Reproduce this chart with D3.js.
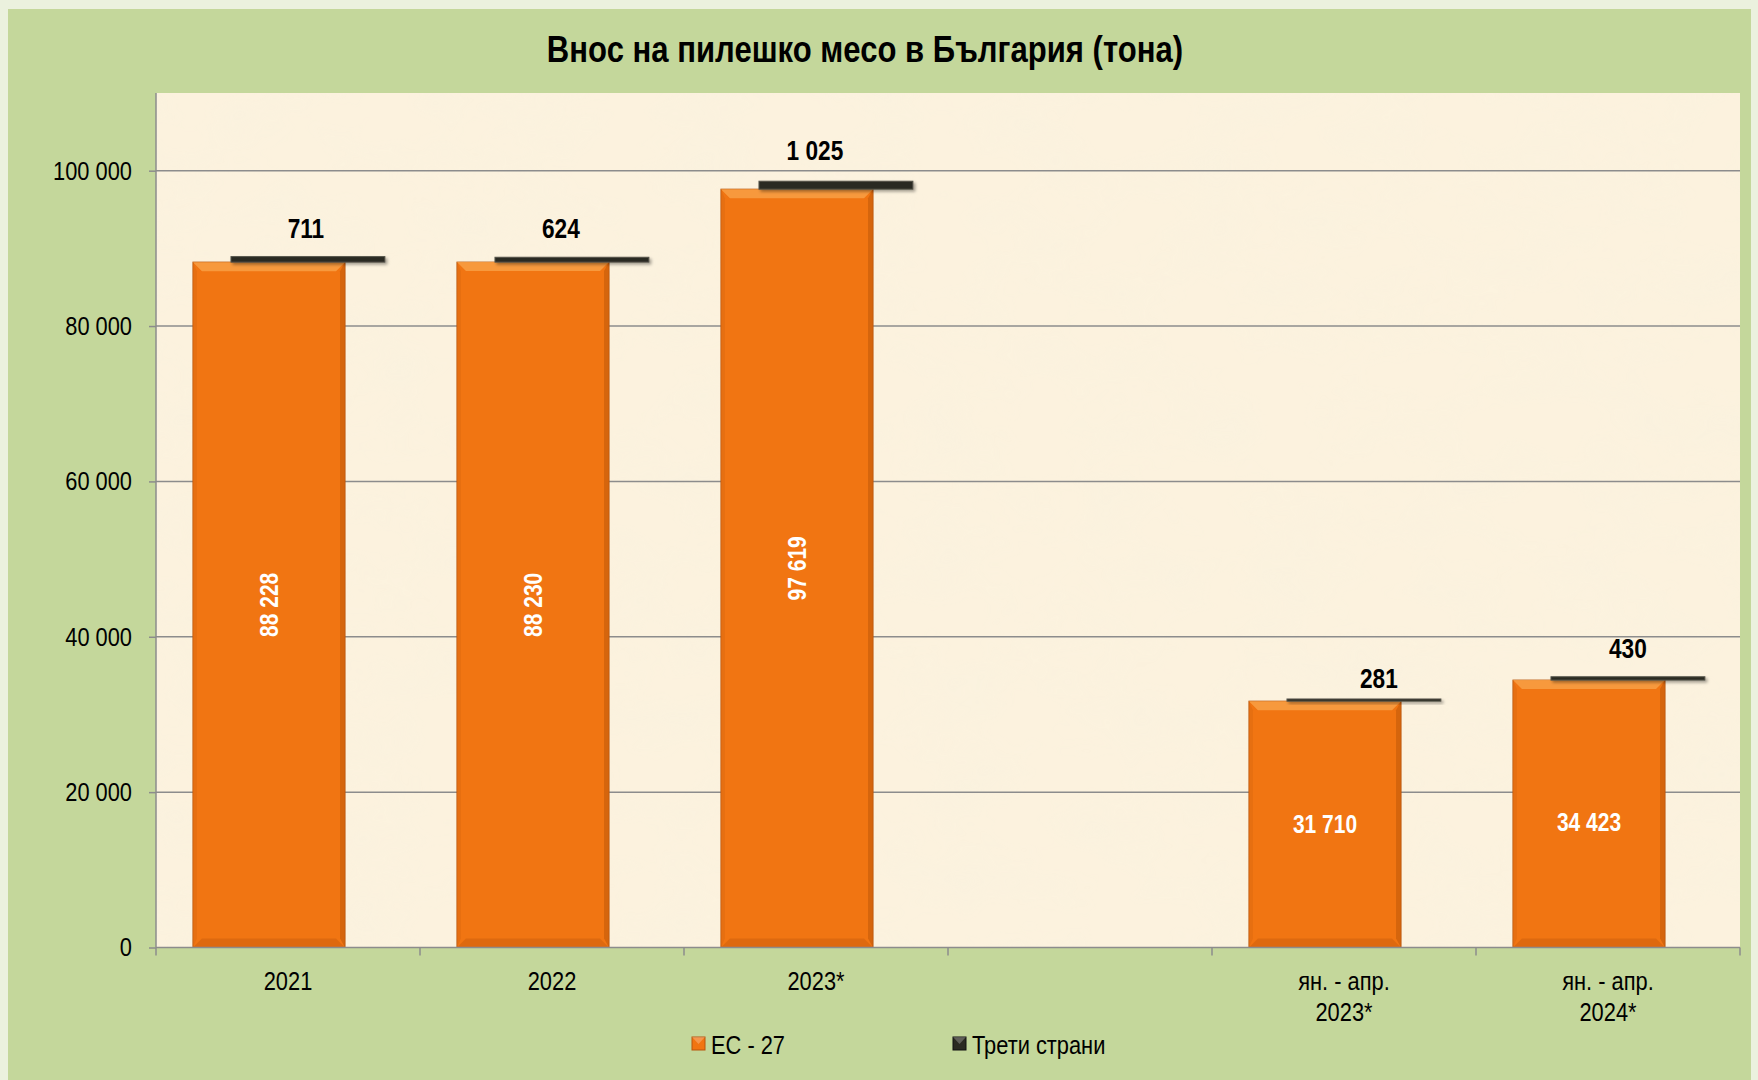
<!DOCTYPE html>
<html>
<head>
<meta charset="utf-8">
<script src="https://cdn.jsdelivr.net/npm/d3@7"></script>
<style>
  html, body { margin: 0; padding: 0; background: #ebf1de; }
  svg { display: block; font-family: "Liberation Sans Narrow", "Arial Narrow", "Liberation Sans", Arial, sans-serif; }
</style>
</head>
<body>
<script>
// Data
const categories = ["2021", "2022", "2023*", "", "ян. - апр.|2023*", "ян. - апр.|2024*"];
const euValues = [88228, 88230, 97619, null, 31710, 34423];
const thirdValues = [711, 624, 1025, null, 281, 430];
const yTicks = [0, 20000, 40000, 60000, 80000, 100000];
const seriesNames = ["ЕС - 27", "Трети страни"];
const title = "Внос на пилешко месо в България (тона)";

// label nudges (as placed in the original chart)
const thirdLabelDx = [-2, -11, -21, 0, 15, 0];
const thirdLabelDy = [0, 0, -2, 0, 8, 0];
const euLabelDy = [0, 0, 0, 0, 0, 8];

const w = 1758;
const h = 1080;
const plot = { left: 156, right: 1740, top: 93, bottom: 947.5 };
const sx = 0.84; // horizontal squeeze to mimic a narrow face

const fmt = (v) => d3.format(",")(v).replace(/,/g, " ");

const svg = d3.select("body").append("svg").attr("width", w).attr("height", h);
const defs = svg.append("defs");

// narrow text helper
function ntext(g, x, y, str) {
  return g.append("text").attr("x", x / sx).attr("y", y).attr("transform", "scale(" + sx + ",1)").text(str);
}

// parchment texture
const tex = defs.append("filter").attr("id", "paper").attr("x", 0).attr("y", 0).attr("width", 1).attr("height", 1);
tex.append("feTurbulence").attr("type", "fractalNoise").attr("baseFrequency", "0.012 0.02").attr("numOctaves", 3).attr("seed", 4).attr("result", "n");
tex.append("feColorMatrix").attr("in", "n").attr("type", "matrix")
  .attr("values", "0 0 0 0 0.93  0 0 0 0 0.88  0 0 0 0 0.74  0 0 0 -1.6 1.0");

const shadow = defs.append("filter").attr("id", "shadow").attr("x", -0.1).attr("y", -0.5).attr("width", 1.3).attr("height", 3);
shadow.append("feDropShadow").attr("dx", 2).attr("dy", 2).attr("stdDeviation", 1.5).attr("flood-opacity", 0.35);

// background panels
svg.append("rect").attr("x", 8).attr("y", 9).attr("width", 1743).attr("height", h - 9).attr("fill", "#c4d79b");
svg.append("rect").attr("x", plot.left).attr("y", plot.top)
  .attr("width", plot.right - plot.left).attr("height", plot.bottom - plot.top).attr("fill", "#fcf2de");
svg.append("rect").attr("x", plot.left).attr("y", plot.top)
  .attr("width", plot.right - plot.left).attr("height", plot.bottom - plot.top)
  .attr("filter", "url(#paper)").attr("opacity", 0.4);

// title
ntext(svg, 865, 62, title).attr("text-anchor", "middle")
  .attr("font-size", 37).attr("font-weight", "bold").attr("fill", "#000");

// scales
const x = d3.scaleBand().domain(d3.range(categories.length)).range([plot.left, plot.right]).padding(0);
const y = d3.scaleLinear().domain([0, 110000]).range([plot.bottom, plot.top]);
const bw = x.bandwidth();

// gridlines
svg.append("g").selectAll("line").data(yTicks.filter((d) => d > 0)).enter().append("line")
  .attr("x1", plot.left).attr("x2", plot.right)
  .attr("y1", (d) => y(d)).attr("y2", (d) => y(d))
  .attr("stroke", "#8c8c8c").attr("stroke-width", 1.5);

// y axis
const yAxis = d3.axisLeft(y).tickValues(yTicks).tickFormat(fmt).tickSize(7).tickPadding(9);
const gy = svg.append("g").attr("transform", "translate(" + plot.left + ",0)").call(yAxis);
gy.select(".domain").attr("stroke", "#8c8c8c").attr("stroke-width", 1.5).attr("d", "M0," + plot.top + "V" + plot.bottom);
gy.selectAll(".tick line").attr("stroke", "#8c8c8c").attr("stroke-width", 1.5);
gy.selectAll(".tick text").attr("font-size", 26).attr("fill", "#000").attr("font-family", null)
  .attr("x", -24 / sx).attr("transform", "scale(" + sx + ",1)");

// bars
const data = categories.map((c, i) => ({ i, c, eu: euValues[i], third: thirdValues[i] })).filter((d) => d.eu != null);

const euX = (d) => x(d.i) + bw * 0.14;
const euW = bw * 0.576;
const thX = (d) => x(d.i) + bw * 0.284;
const thW = bw * 0.583;
const bev = 9;

const bars = svg.append("g").selectAll("g").data(data).enter().append("g");

bars.append("rect").attr("x", euX).attr("y", (d) => y(d.eu)).attr("width", euW)
  .attr("height", (d) => y(0) - y(d.eu)).attr("fill", "#f17512").attr("stroke", "#b8560e").attr("stroke-width", 1);
// bevel top
bars.append("path").attr("fill", "#f8a045").attr("opacity", 0.85)
  .attr("d", (d) => {
    const x0 = euX(d), x1 = x0 + euW, t = y(d.eu);
    return `M${x0},${t}L${x1},${t}L${x1 - bev},${t + bev}L${x0 + bev},${t + bev}Z`;
  });
// bevel right
bars.append("path").attr("fill", "#c95e0c").attr("opacity", 0.7)
  .attr("d", (d) => {
    const x0 = euX(d), x1 = x0 + euW, t = y(d.eu), b = y(0);
    return `M${x1},${t}L${x1},${b}L${x1 - 5},${b - bev}L${x1 - 5},${t + bev}Z`;
  });
// bevel bottom
bars.append("path").attr("fill", "#d9660f").attr("opacity", 0.8)
  .attr("d", (d) => {
    const x0 = euX(d), x1 = x0 + euW, b = y(0);
    return `M${x0},${b}L${x1},${b}L${x1 - bev},${b - bev}L${x0 + bev},${b - bev}Z`;
  });
// bevel left
bars.append("path").attr("fill", "#e06a10").attr("opacity", 0.6)
  .attr("d", (d) => {
    const x0 = euX(d), t = y(d.eu), b = y(0);
    return `M${x0},${t}L${x0 + 4},${t + bev}L${x0 + 4},${b - bev}L${x0},${b}Z`;
  });

// third countries stacked segment
bars.append("rect").attr("x", thX).attr("y", (d) => y(d.eu + d.third)).attr("width", thW)
  .attr("height", (d) => Math.max(2, y(d.eu) - y(d.eu + d.third)))
  .attr("fill", "#2b2a22").attr("stroke", "#55544a").attr("stroke-width", 1)
  .attr("filter", "url(#shadow)");

// labels: third countries
bars.each(function (d) {
  ntext(d3.select(this), thX(d) + thW / 2 + thirdLabelDx[d.i], y(d.eu + d.third) - 19 + thirdLabelDy[d.i], fmt(d.third))
    .attr("text-anchor", "middle").attr("font-size", 27).attr("font-weight", "bold").attr("fill", "#000");
});

// labels: EU (vertical for full years, horizontal for partial)
bars.append("text")
  .attr("transform", (d) => {
    const cx = euX(d) + euW / 2, cy = (y(0) + y(d.eu)) / 2 + euLabelDy[d.i];
    return (d.i < 3 ? `translate(${cx},${cy}) rotate(-90)` : `translate(${cx},${cy})`) + ` scale(${sx},1)`;
  })
  .attr("text-anchor", "middle").attr("dy", "0.36em")
  .attr("font-size", 25).attr("font-weight", "bold").attr("fill", "#fff")
  .text((d) => fmt(d.eu));

// x axis
const gx = svg.append("g");
gx.append("line").attr("x1", plot.left).attr("x2", plot.right).attr("y1", plot.bottom).attr("y2", plot.bottom)
  .attr("stroke", "#8c8c8c").attr("stroke-width", 1.5);
gx.selectAll(".xt").data(d3.range(categories.length + 1)).enter().append("line")
  .attr("x1", (i) => plot.left + i * bw).attr("x2", (i) => plot.left + i * bw)
  .attr("y1", plot.bottom).attr("y2", plot.bottom + 8)
  .attr("stroke", "#8c8c8c").attr("stroke-width", 1.5);
categories.forEach((c, i) => {
  c.split("|").forEach((l, k) => {
    ntext(gx, x(i) + bw / 2, 990 + k * 31, l).attr("text-anchor", "middle").attr("font-size", 26).attr("fill", "#000");
  });
});

// legend
const legend = svg.append("g");
const legendItems = [
  { name: seriesNames[0], x: 692, color: "#f17512", edge: "#b8560e" },
  { name: seriesNames[1], x: 953, color: "#2b2a22", edge: "#111" },
];
legendItems.forEach((d) => {
  legend.append("rect").attr("x", d.x).attr("y", 1037).attr("width", 13).attr("height", 13)
    .attr("fill", d.color).attr("stroke", d.edge).attr("stroke-width", 1);
  legend.append("path").attr("d", `M${d.x},${1037}L${d.x + 13},${1037}L${d.x + 6.5},${1044}Z`)
    .attr("fill", "#fff").attr("opacity", 0.25);
  ntext(legend, d.x + 19, 1054, d.name).attr("font-size", 26).attr("fill", "#000");
});
</script>
</body>
</html>
